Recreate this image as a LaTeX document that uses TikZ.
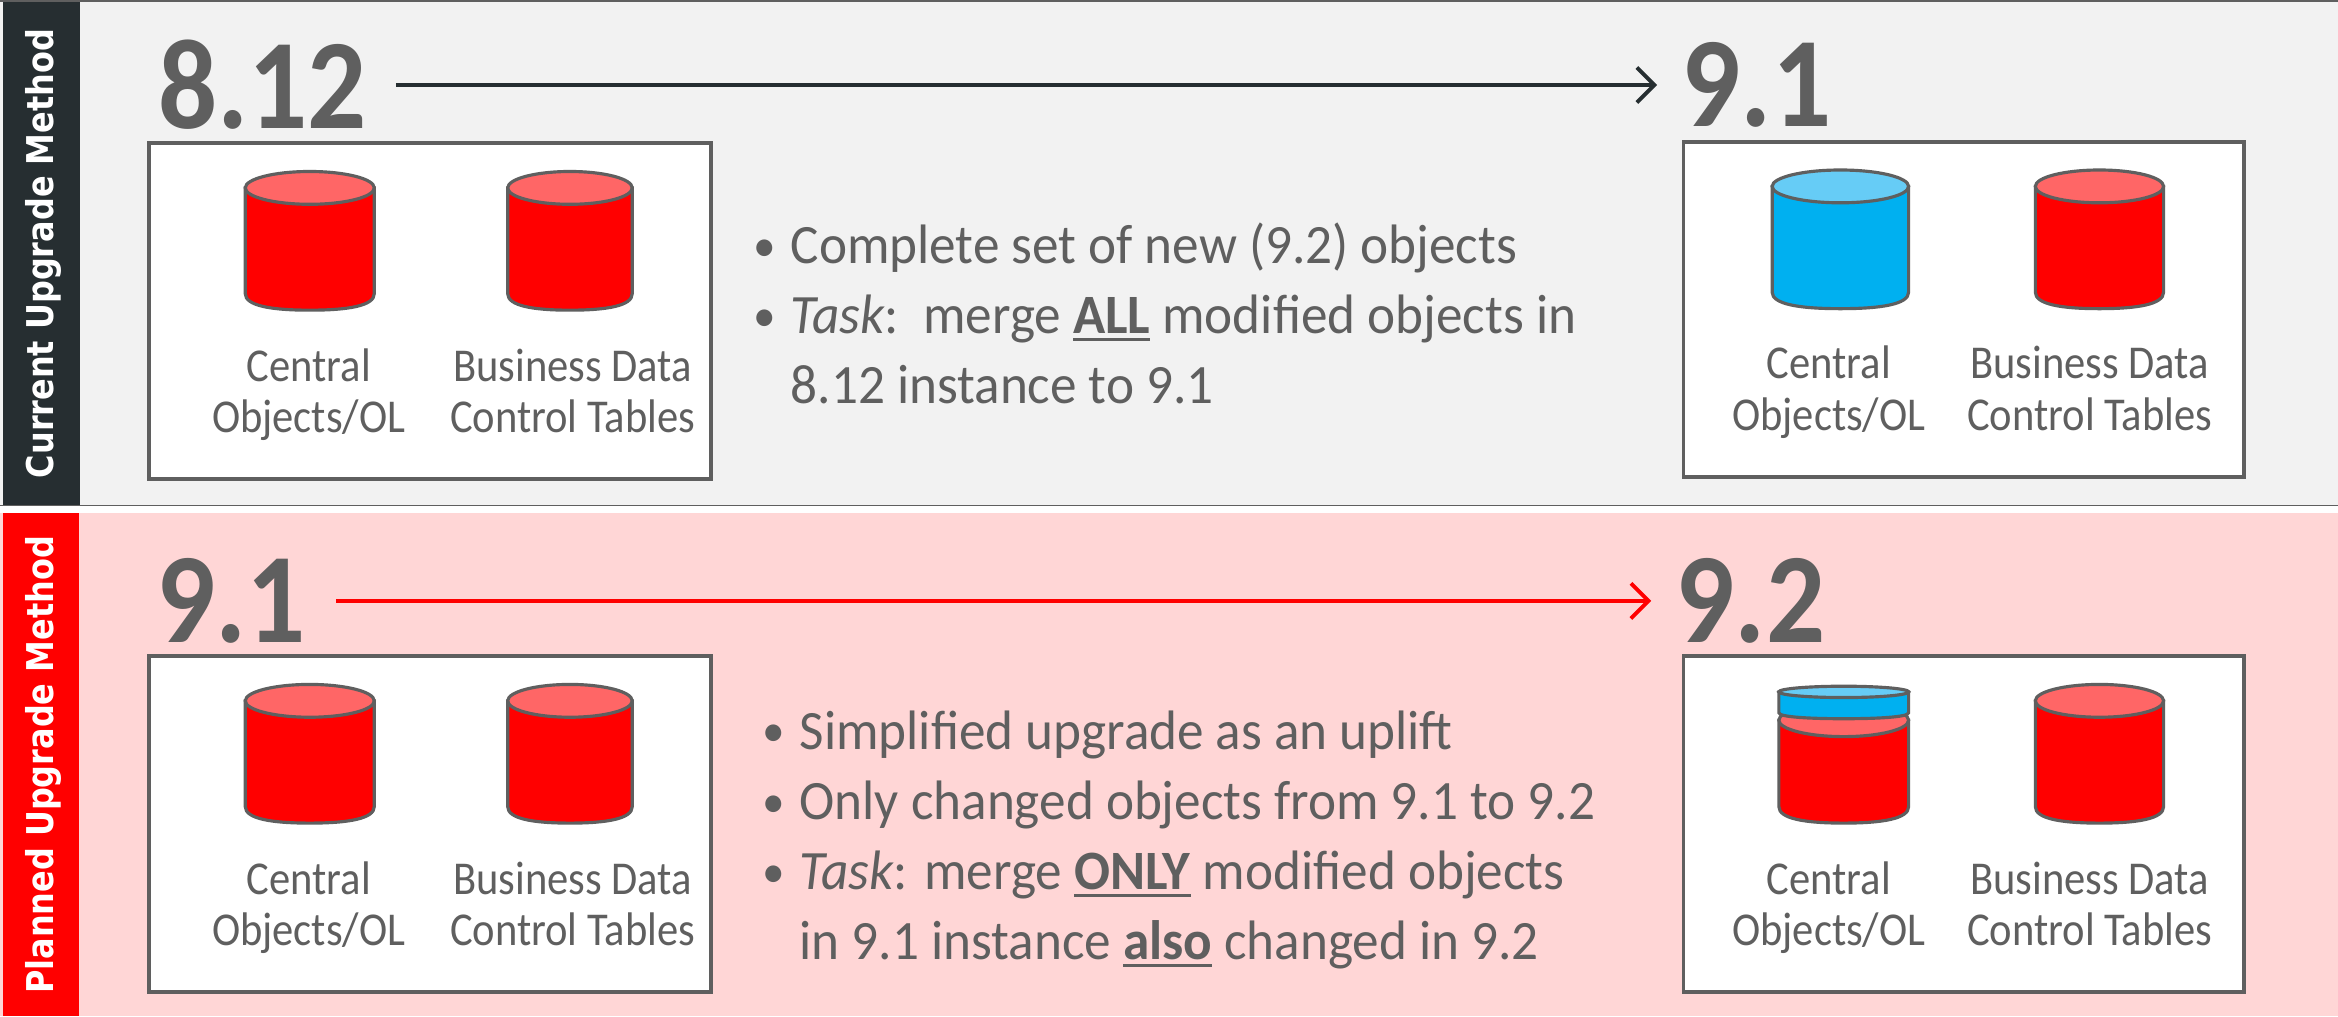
\documentclass[tikz,border=0pt]{standalone}
\usepackage{fontspec}
\setmainfont{Carlito}
\newfontfamily\labelfont[FakeStretch=0.903]{Carlito}
\newfontfamily\bulletfont[FakeStretch=0.958]{Carlito}
\newfontfamily\versionfont[FakeStretch=0.91]{Carlito}
\newfontfamily\sidefont[FakeStretch=0.865]{DejaVu Sans}
\usetikzlibrary{arrows.meta}
\definecolor{ink}{HTML}{5F5F5F}
\definecolor{barDark}{HTML}{262E31}
\definecolor{panelGray}{HTML}{F2F2F2}
\definecolor{panelPink}{HTML}{FFD6D6}
\definecolor{dbRed}{HTML}{FF0000}
\definecolor{dbRedTop}{HTML}{FF6666}
\definecolor{dbBlue}{HTML}{00B0F0}
\definecolor{dbBlueTop}{HTML}{66CCF6}
\tikzset{
  box/.style={draw=ink,line width=1.1pt,fill=white},
  dbline/.style={draw=ink,line width=0.9pt},
  sidelabel/.style={rotate=90,text=white,font=\sidefont\bfseries\fontsize{10.5}{13}\selectfont,inner sep=0pt},
  version/.style={text=ink,font=\versionfont\bfseries\fontsize{36.5}{40}\selectfont,inner sep=0pt},
  caption/.style={text=ink,anchor=base,font=\labelfont\fontsize{13.4}{15}\selectfont,inner sep=0pt},
  points/.style={text=ink,anchor=north west,align=left,inner sep=0pt,font=\bulletfont\fontsize{15.8}{19.95}\selectfont},
  upgrade/.style={-{Straight Barb[length=5pt,width=10pt,line width=1.1pt]},line width=1.15pt},
}
\newcommand{\cylshape}[6]{% x1 x2 ytop ybot body top
  \pgfmathsetmacro{\cmid}{(#1+#2)/2}
  \pgfmathsetmacro{\crx}{(#2-#1)/2}
  \filldraw[dbline,fill=#5] (#1,#3+11) -- (#1,#4-11) .. controls (#1,#4-3) and (\cmid-\crx*0.6,#4) .. (\cmid,#4) .. controls (\cmid+\crx*0.6,#4) and (#2,#4-3) .. (#2,#4-11) -- (#2,#3+11) -- cycle;
  \filldraw[dbline,fill=#6] (\cmid,#3+11) ellipse [x radius=\crx,y radius=11];
}
\newcommand{\captions}[5]{% prefix centre1 centre2 baseline1 baseline2
  \node[caption] (#1a) at (#2,#4) {Central};
  \node[caption] (#1b) at (#2,#5) {Objects/OL};
  \node[caption] (#1c) at (#3,#4) {Business Data};
  \node[caption] (#1d) at (#3,#5) {Control Tables};
}
\newcommand{\bul}{\raisebox{0.08ex}{\scalebox{0.85}{\textbullet}}\hspace{0.26em}}
\newcommand{\keyword}[1]{\vtop{\hbox{\textbf{#1}}\kern1.1pt\hrule height 0.95pt}}
\begin{document}
\begin{tikzpicture}[x=0.01491cm,y=-0.01491cm]
\useasboundingbox (0,0) rectangle (1568,681.4);
% panels
\fill[white] (0,0) rectangle (1568,681.4);
\filldraw[fill=panelGray,draw=ink,line width=0.5pt] (-2,0.5) rectangle (1570,339);
\fill[panelPink] (0,344) rectangle (1568,681.4);
\fill[barDark] (2,1) rectangle (53.5,338.5);
\fill[dbRed] (2,344) rectangle (53,681.4);
\node[sidelabel] (sideA) at (29,170) {Current Upgrade Method};
\node[sidelabel] (sideB) at (29,513) {Planned Upgrade Method};
% boxes
\draw[box] (100,96) rectangle (477,321);
\draw[box] (1129,95) rectangle (1505,320);
\draw[box] (100,440) rectangle (477,665);
\draw[box] (1129,440) rectangle (1505,665);
% versions
\node[version] (v812) at (176,57) {8.12};
\node[version] (v91a) at (1178,57) {9.1};
\node[version] (v91b) at (155,403) {9.1};
\node[version] (v92) at (1174,403) {9.2};
\draw[upgrade,barDark] (v812.east) ++(19,0) coordinate (a1) (v91a.west) ++(-16,0) coordinate (a2) (a1) -- (a2);
\draw[upgrade,dbRed] (v91b.east) ++(20,0) coordinate (b1) (v92.west) ++(-16,0) coordinate (b2) (b1) -- (b2);
% cylinders
\cylshape{164.5}{251}{115}{208}{dbRed}{dbRedTop}
\cylshape{340.5}{424}{115}{208}{dbRed}{dbRedTop}
\cylshape{1188.5}{1280}{114}{207}{dbBlue}{dbBlueTop}
\cylshape{1365}{1451}{114}{207}{dbRed}{dbRedTop}
\cylshape{164.5}{251}{459}{552}{dbRed}{dbRedTop}
\cylshape{340.5}{424}{459}{552}{dbRed}{dbRedTop}
\cylshape{1193}{1280}{472}{552}{dbRed}{dbRedTop}
\cylshape{1365}{1451}{459}{552}{dbRed}{dbRedTop}
% blue slice
\filldraw[dbline,fill=dbBlue] (1193,464) -- (1193,478) .. controls (1193,481) and (1215,482) .. (1236.5,482) .. controls (1258,482) and (1280,481) .. (1280,478) -- (1280,464) -- cycle;
\filldraw[dbline,fill=dbBlueTop] (1236.5,464) ellipse [x radius=43.5,y radius=3.8];
% captions
\captions{capA}{207}{384}{256}{290}
\captions{capB}{1226.5}{1401.5}{254}{289}
\captions{capC}{207}{384}{600}{634}
\captions{capD}{1226.5}{1401.5}{600}{634}
% bullet texts
\node[points] (ptA) at (505,149) {%
\bul Complete set of new (9.2) objects\\
\bul \textit{Task}:\ \ merge \keyword{ALL} modified objects in\\
\phantom{\bul}8.12 instance to 9.1};
\node[points] (ptB) at (511,476) {%
\bul Simplified upgrade as an uplift\\
\bul Only changed objects from 9.1 to 9.2\\
\bul \textit{Task}: merge \keyword{ONLY} modified objects\\
\phantom{\bul}in 9.1 instance \keyword{also} changed in 9.2};
\end{tikzpicture}
\end{document}
